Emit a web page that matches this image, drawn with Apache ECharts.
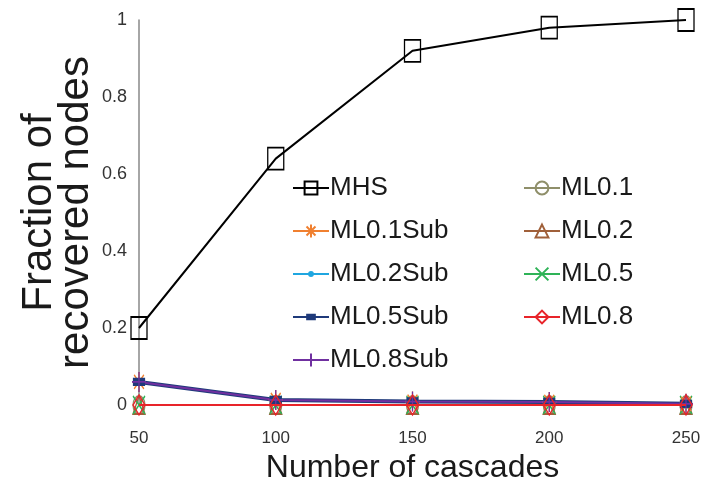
<!DOCTYPE html>
<html>
<head>
<meta charset="utf-8">
<script src="https://cdn.jsdelivr.net/npm/echarts@6/dist/echarts.min.js"></script>
<style>
  html, body { margin: 0; padding: 0; background: #fff; }
  #chart { width: 708px; height: 489px; }
</style>
</head>
<body>
<div id="chart"></div>
<script>
// data
const cascades = ['50', '100', '150', '200', '250'];
const mhs = [0.2, 0.64, 0.92, 0.98, 1.0];
const ml01 = [0, 0, 0, 0, 0];
const ml02 = [0, 0, 0, 0, 0];
const ml05 = [0, 0, 0, 0, 0];
const ml08 = [0, 0, 0, 0, 0];
const ml01Sub = [0.06, 0.013, 0.009, 0.008, 0.003];
const ml02Sub = [0.06, 0.013, 0.009, 0.008, 0.003];
const ml05Sub = [0.06, 0.013, 0.009, 0.008, 0.003];
const ml08Sub = [0.06, 0.013, 0.009, 0.008, 0.003];
const leftLegend = ['MHS', 'ML0.1Sub', 'ML0.2Sub', 'ML0.5Sub', 'ML0.8Sub'];
const rightLegend = ['ML0.1', 'ML0.2', 'ML0.5', 'ML0.8'];

const sans = '"Liberation Sans", Arial, sans-serif';

// stroke-only marks; the extra move points keep small marks small in the legend
const symbols = {
    star: 'path://M5,0V10M0,5H10M1.5,1.5L8.5,8.5M8.5,1.5L1.5,8.5',
    cross: 'path://M0,0L10,10M10,0L0,10',
    plus: 'path://M5,0V10M0,5H10',
    dot: 'path://M0,0M10,10M3.5,5A1.5,1.5,0,1,0,6.5,5A1.5,1.5,0,1,0,3.5,5Z',
    bar: 'path://M0,0M10,10M2,3.3H8V6.7H2Z'
};

// helper for one line series
function makeSeries(name, data, color, symbol, size, opts) {
    opts = opts || {};
    return {
        name: name,
        type: 'line',
        data: data,
        symbol: symbol,
        symbolSize: size,
        lineStyle: { color: color, width: opts.width || 2 },
        itemStyle: {
            color: opts.hollow ? 'rgba(255,255,255,0)' : color,
            borderColor: color,
            borderWidth: opts.border || 1.5
        },
        z: opts.z || 2,
        animation: false
    };
}

const chart = echarts.init(document.getElementById('chart'));

const legendBase = {
    orient: 'vertical',
    top: 168,
    itemWidth: 36,
    itemHeight: 16,
    itemGap: 13,
    textStyle: {
        fontFamily: sans,
        fontSize: 26,
        lineHeight: 30,
        color: '#1a1a1a',
        padding: [0, 0, 0, -4]
    }
};

chart.setOption({
    backgroundColor: '#fff',
    legend: [
        Object.assign({}, legendBase, { left: 287, data: leftLegend }),
        Object.assign({}, legendBase, { left: 518, data: rightLegend })
    ],
    grid: {
        left: 139,
        right: 22,
        top: 20,
        bottom: 84
    },
    xAxis: {
        type: 'category',
        data: cascades,
        boundaryGap: false,
        name: 'Number of cascades',
        nameLocation: 'middle',
        nameGap: 43,
        nameTextStyle: {
            fontFamily: sans,
            fontSize: 32,
            color: '#1a1a1a'
        },
        axisLine: { show: false },
        axisTick: { show: false },
        axisLabel: {
            fontFamily: sans,
            fontSize: 17,
            color: '#333',
            margin: 25
        },
        splitLine: { show: false }
    },
    yAxis: {
        type: 'value',
        min: 0,
        max: 1,
        interval: 0.2,
        name: 'Fraction of\nrecovered nodes',
        nameLocation: 'middle',
        nameGap: 44,
        nameMoveOverlap: false,
        nameTextStyle: {
            fontFamily: sans,
            fontSize: 42,
            lineHeight: 37,
            color: '#1a1a1a'
        },
        axisLine: { show: true, lineStyle: { color: '#888', width: 1.5 } },
        axisTick: { show: false },
        axisLabel: {
            fontFamily: sans,
            fontSize: 18,
            color: '#333',
            margin: 12
        },
        splitLine: { show: false }
    },
    series: [
        makeSeries('ML0.1', ml01, '#8f8f6a', 'circle', [12, 18], { hollow: true }),
        makeSeries('ML0.2', ml02, '#a0603a', 'triangle', [12, 18], { hollow: true }),
        makeSeries('ML0.5', ml05, '#2eb357', symbols.cross, [12, 18]),
        makeSeries('ML0.1Sub', ml01Sub, '#f08030', symbols.star, [14, 20]),
        makeSeries('ML0.2Sub', ml02Sub, '#1fa6e0', symbols.dot, [20, 20]),
        makeSeries('ML0.5Sub', ml05Sub, '#1f3a7a', symbols.bar, [18, 20], { width: 4 }),
        makeSeries('ML0.8Sub', ml08Sub, '#7030a0', symbols.plus, [14, 20], { width: 2 }),
        makeSeries('ML0.8', ml08, '#e8242a', 'diamond', [12, 20], { hollow: true, z: 3 }),
        makeSeries('MHS', mhs, '#000', 'rect', [16, 22], { hollow: true, z: 4 })
    ]
});

window.addEventListener('resize', () => chart.resize());
</script>
</body>
</html>
